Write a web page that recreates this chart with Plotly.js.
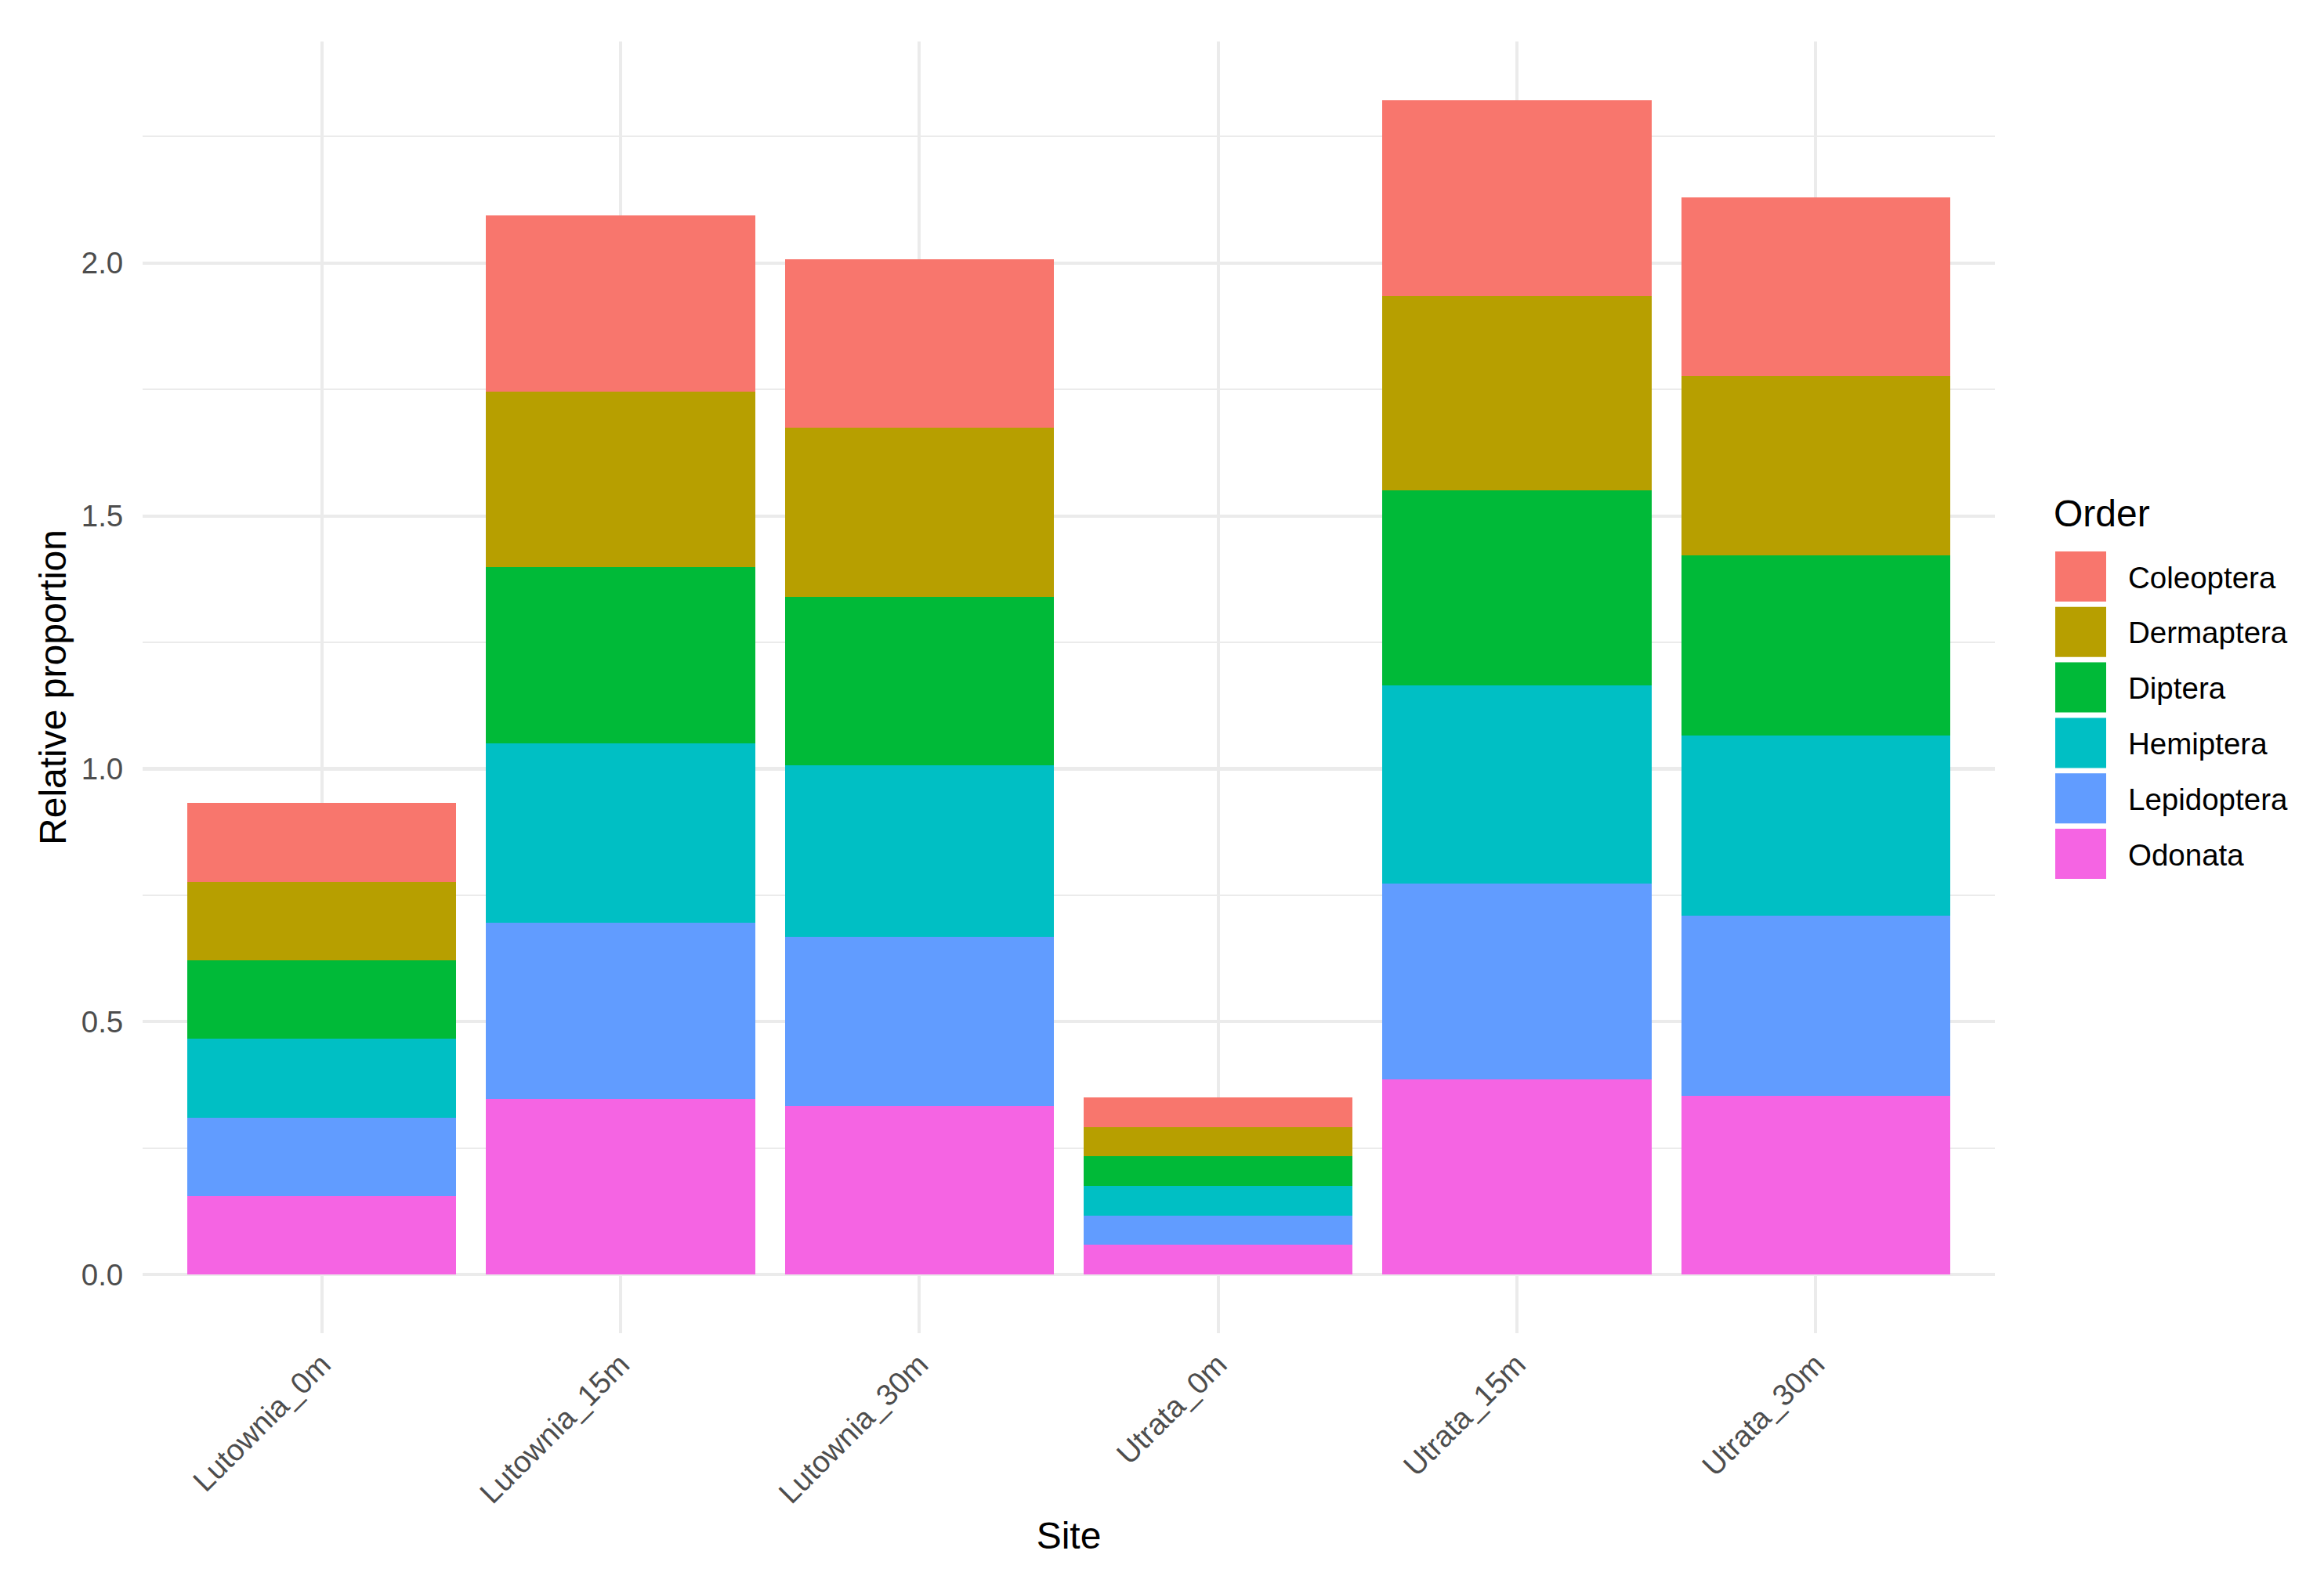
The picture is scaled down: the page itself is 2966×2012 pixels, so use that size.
<!DOCTYPE html>
<html>
<head>
<meta charset="utf-8">
<script src="https://cdn.plot.ly/plotly-3.0.1.min.js"></script>
<style>html,body{margin:0;padding:0;background:#fff;}#chart{width:2966px;height:2012px;}</style>
</head>
<body>
<div id="chart"></div>
<script>
const sites = ['Lutownia_0m','Lutownia_15m','Lutownia_30m','Utrata_0m','Utrata_15m','Utrata_30m'];
const orders = ['Coleoptera','Dermaptera','Diptera','Hemiptera','Lepidoptera','Odonata'];
const colors = ['#F8766D','#B79F00','#00BA38','#00BFC4','#619CFF','#F564E3'];
const coleoptera  = [0.156, 0.348, 0.333, 0.0583, 0.387, 0.354];
const dermaptera  = [0.155, 0.348, 0.335, 0.0577, 0.385, 0.354];
const diptera     = [0.155, 0.348, 0.333, 0.0594, 0.385, 0.3565];
const hemiptera   = [0.1555, 0.354, 0.339, 0.0576, 0.392, 0.3565];
const lepidoptera = [0.1555, 0.349, 0.335, 0.0585, 0.3865, 0.355];
const odonata     = [0.155, 0.347, 0.333, 0.0585, 0.3865, 0.354];
const yTickVals = [0, 0.5, 1.0, 1.5, 2.0];
const yTickText = ['0.0','0.5','1.0','1.5','2.0'];
const yMinorVals = [0.25, 0.75, 1.25, 1.75, 2.25];

const seriesValues = [coleoptera, dermaptera, diptera, hemiptera, lepidoptera, odonata];

// Plotly stacks the first trace at the bottom; ggplot puts the first level on top
const traces = [];
for (let i = orders.length - 1; i >= 0; i--) {
  traces.push({
    type: 'bar',
    name: orders[i],
    x: sites,
    y: seriesValues[i],
    marker: {color: colors[i], line: {width: 0}},
    showlegend: false,
    hoverinfo: 'x+y+name'
  });
}

// plot area in pixels
const L = 182, R = 2546, T = 53, B = 1702;
const fx = p => (p - L) / (R - L);
const fy = p => (B - p) / (B - T);
const FONT = 'Liberation Sans, Arial, sans-serif';

const shapes = [];
const annotations = [];
annotations.push({
  xref: 'paper', yref: 'paper', x: fx(2619), y: fy(655),
  xanchor: 'left', yanchor: 'middle', showarrow: false,
  text: 'Order', font: {family: FONT, size: 48, color: '#000000'}
});
for (let i = 0; i < orders.length; i++) {
  const y0 = 704 + i * 70.8;
  shapes.push({
    type: 'rect', xref: 'paper', yref: 'paper',
    x0: fx(2623), x1: fx(2688), y0: fy(y0 + 64), y1: fy(y0),
    fillcolor: colors[i], line: {width: 0}, layer: 'above'
  });
  annotations.push({
    xref: 'paper', yref: 'paper', x: fx(2714), y: fy(y0 + 33),
    xanchor: 'left', yanchor: 'middle', showarrow: false,
    text: orders[i], font: {family: FONT, size: 38.5, color: '#000000'}
  });
}

const layout = {
  width: 2966, height: 2012,
  margin: {l: L, r: 2966 - R, t: T, b: 2012 - B, pad: 0},
  paper_bgcolor: '#ffffff', plot_bgcolor: '#ffffff',
  barmode: 'stack', bargap: 0.1,
  font: {family: FONT, color: '#4D4D4D'},
  showlegend: false,
  xaxis: {
    type: 'category',
    range: [-0.6, 5.6],
    tickangle: -45,
    ticks: 'outside', ticklen: 1, tickcolor: 'rgba(0,0,0,0)',
    tickfont: {size: 38.5, color: '#4D4D4D'},
    showgrid: true, gridcolor: '#EBEBEB', gridwidth: 4.2,
    zeroline: false, showline: false,
    title: {text: 'Site', font: {size: 48, color: '#000000'}, standoff: 17}
  },
  yaxis: {
    range: [-0.1161, 2.4381],
    tickmode: 'array', tickvals: yTickVals, ticktext: yTickText,
    ticks: 'outside', ticklen: 16, tickcolor: 'rgba(0,0,0,0)',
    tickfont: {size: 38.5, color: '#4D4D4D'},
    showgrid: true, gridcolor: '#EBEBEB', gridwidth: 4.2,
    minor: {tickmode: 'array', tickvals: yMinorVals, showgrid: true, gridcolor: '#EBEBEB', gridwidth: 2.1, ticks: ''},
    zeroline: false, showline: false,
    title: {text: 'Relative proportion', font: {size: 48, color: '#000000'}, standoff: 3}
  },
  shapes: shapes,
  annotations: annotations
};

Plotly.newPlot('chart', traces, layout, {displayModeBar: false, staticPlot: true});
</script>
</body>
</html>
